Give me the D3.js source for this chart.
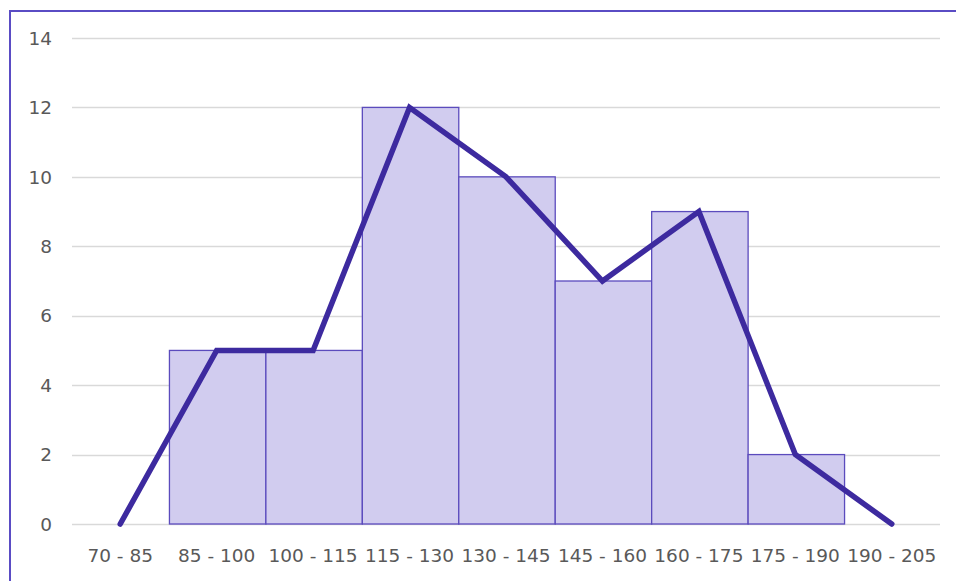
<!DOCTYPE html>
<html>
<head>
<meta charset="utf-8">
<script src="https://cdn.jsdelivr.net/npm/d3@7"></script>
<style>
  body { margin: 0; background: #fff; }
  svg { display: block; }
</style>
</head>
<body>
<div id="chart"></div>
<script>
const categories = ["70 - 85", "85 - 100", "100 - 115", "115 - 130", "130 - 145",
  "145 - 160", "160 - 175", "175 - 190", "190 - 205"];
const frequencies = [0, 5, 5, 12, 10, 7, 9, 2, 0];
const yTicks = [0, 2, 4, 6, 8, 10, 12, 14];

const W = 956, H = 581;
const plot = { left: 72, right: 940, top: 38, bottom: 524 };

const svg = d3.select("#chart").append("svg")
  .attr("width", W)
  .attr("height", H);

// outer frame (right and bottom edges fall outside the picture)
svg.append("rect")
  .attr("x", 10).attr("y", 11)
  .attr("width", 960).attr("height", 600)
  .attr("fill", "#fff")
  .attr("stroke", "#5a4cc4")
  .attr("stroke-width", 2);

const x = d3.scaleBand()
  .domain(categories)
  .range([plot.left, plot.right])
  .padding(0);

const y = d3.scaleLinear()
  .domain([0, 14])
  .range([plot.bottom, plot.top]);

// gridlines
svg.append("g")
  .selectAll("line")
  .data(yTicks)
  .join("line")
  .attr("x1", plot.left)
  .attr("x2", plot.right)
  .attr("y1", d => Math.round(y(d)) + 0.5)
  .attr("y2", d => Math.round(y(d)) + 0.5)
  .attr("stroke", "#d9d9d9")
  .attr("stroke-width", 1.3);

// y labels
svg.append("g")
  .selectAll("text")
  .data(yTicks)
  .join("text")
  .attr("x", 52)
  .attr("y", d => y(d))
  .attr("dy", "0.36em")
  .attr("text-anchor", "end")
  .style("font-family", "DejaVu Sans, sans-serif")
  .style("font-size", "18.5px")
  .style("fill", "#595959")
  .text(d => d);

// bars
svg.append("g")
  .selectAll("rect")
  .data(frequencies.map((v, i) => ({ cat: categories[i], v })).filter(d => d.v > 0))
  .join("rect")
  .attr("x", d => x(d.cat) + 1)
  .attr("y", d => y(d.v))
  .attr("width", x.bandwidth())
  .attr("height", d => y(0) - y(d.v))
  .attr("fill", "#d1ccef")
  .attr("stroke", "#5b4bbd")
  .attr("stroke-width", 1.3);

// frequency polygon
const line = d3.line()
  .x((d, i) => x(categories[i]) + x.bandwidth() / 2)
  .y(d => y(d));

svg.append("path")
  .datum(frequencies)
  .attr("d", line)
  .attr("fill", "none")
  .attr("stroke", "#3d2a9f")
  .attr("stroke-width", 5.5)
  .attr("stroke-linejoin", "miter")
  .attr("stroke-linecap", "round");

// x labels
svg.append("g")
  .selectAll("text")
  .data(categories)
  .join("text")
  .attr("x", d => x(d) + x.bandwidth() / 2)
  .attr("y", 555)
  .attr("dy", "0.36em")
  .attr("text-anchor", "middle")
  .style("font-family", "DejaVu Sans, sans-serif")
  .style("font-size", "18.5px")
  .style("fill", "#595959")
  .text(d => d);
</script>
</body>
</html>
